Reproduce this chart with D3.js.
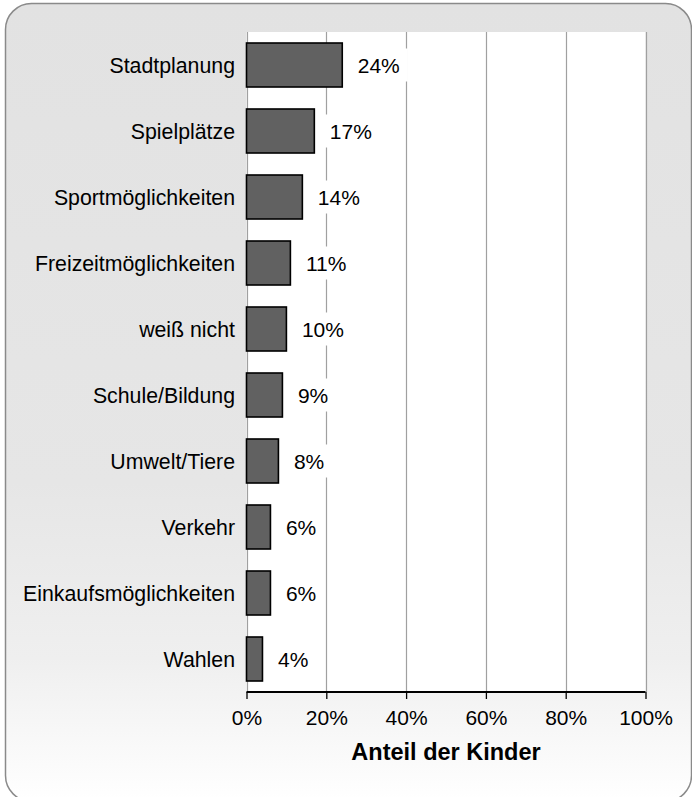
<!DOCTYPE html>
<html>
<head>
<meta charset="utf-8">
<script src="https://cdn.jsdelivr.net/npm/d3@7"></script>
<style>
  html, body { margin: 0; padding: 0; background: #ffffff; }
  svg { display: block; }
  text { font-family: "Liberation Sans", Arial, sans-serif; fill: #000; }
</style>
</head>
<body>
<svg id="chart" width="692" height="797"></svg>
<script>
// Themen, die Kinder nennen, und Anteil der Kinder je Thema
const categories = [
  "Stadtplanung", "Spielplätze", "Sportmöglichkeiten", "Freizeitmöglichkeiten",
  "weiß nicht", "Schule/Bildung", "Umwelt/Tiere", "Verkehr",
  "Einkaufsmöglichkeiten", "Wahlen"
];
const shares = [0.24, 0.17, 0.14, 0.11, 0.10, 0.09, 0.08, 0.06, 0.06, 0.04];
const tickValues = [0, 0.2, 0.4, 0.6, 0.8, 1.0];
const axisTitle = "Anteil der Kinder";

const svg = d3.select("#chart");
const plot = { left: 246.5, right: 645.5, top: 32, bottom: 692 };

// Hintergrund mit Verlauf und abgerundetem Rahmen
const defs = svg.append("defs");
const grad = defs.append("linearGradient")
  .attr("id", "bg").attr("x1", 0).attr("y1", 0).attr("x2", 0).attr("y2", 1);
[[0, "#e2e2e2"], [0.6, "#e6e6e6"], [0.82, "#efefef"], [1, "#ffffff"]]
  .forEach(([o, c]) => grad.append("stop").attr("offset", o).attr("stop-color", c));

svg.append("rect")
  .attr("x", 5.5).attr("y", 3.5)
  .attr("width", 686).attr("height", 798)
  .attr("rx", 26).attr("ry", 26)
  .attr("fill", "url(#bg)")
  .attr("stroke", "#8a8a8a").attr("stroke-width", 1.5);

const x = d3.scaleLinear().domain([0, 1]).range([plot.left, plot.right]);
const y = d3.scaleBand().domain(categories).range([plot.top, plot.bottom]).paddingInner(1 / 3).paddingOuter(1 / 6);

// Weiße Zeichenfläche
svg.append("rect")
  .attr("x", plot.left).attr("y", plot.top)
  .attr("width", plot.right - plot.left).attr("height", plot.bottom - plot.top)
  .attr("fill", "#ffffff");

// Vertikale Gitterlinien
svg.append("g").selectAll("line").data(tickValues).join("line")
  .attr("x1", d => Math.round(x(d)) + 0.5).attr("x2", d => Math.round(x(d)) + 0.5)
  .attr("y1", plot.top).attr("y2", plot.bottom)
  .attr("stroke", "#a0a0a0").attr("stroke-width", 1.2);

// Balken
svg.append("g").selectAll("rect").data(categories).join("rect")
  .attr("x", x(0))
  .attr("y", d => y(d))
  .attr("width", (d, i) => x(shares[i]) - x(0))
  .attr("height", y.bandwidth())
  .attr("fill", "#616161")
  .attr("stroke", "#000").attr("stroke-width", 1.6);

// Wertbeschriftungen mit weißem Hintergrund
const fmt = d3.format(".0%");
const labels = svg.append("g").selectAll("g").data(categories).join("g");
labels.each(function (d, i) {
  const g = d3.select(this);
  const cy = y(d) + y.bandwidth() / 2;
  const tx = x(shares[i]) + 15.5;
  const box = g.append("rect").attr("fill", "#ffffff");
  const t = g.append("text")
    .attr("x", tx).attr("y", cy)
    .attr("dy", "0.36em")
    .attr("font-size", 21)
    .text(fmt(shares[i]));
  const w = t.node().getComputedTextLength();
  box.attr("x", tx - 6).attr("y", cy - 16.5).attr("width", w + 14).attr("height", 33);
});

// Kategorienbeschriftungen
svg.append("g").selectAll("text").data(categories).join("text")
  .attr("x", 235)
  .attr("y", d => y(d) + y.bandwidth() / 2)
  .attr("dy", "0.36em")
  .attr("text-anchor", "end")
  .attr("font-size", 21.3)
  .text(d => d);

// x-Achse
const xAxis = d3.axisBottom(x).tickValues(tickValues).tickFormat(fmt).tickSize(7).tickPadding(11);
const ax = svg.append("g").attr("transform", `translate(0,${plot.bottom})`).call(xAxis);
ax.select(".domain").attr("stroke", "#000").attr("stroke-width", 2.2).attr("d", `M${plot.left},0H${plot.right}`);
ax.selectAll(".tick line").attr("stroke", "#000").attr("stroke-width", 1.3);
ax.selectAll(".tick text")
  .attr("font-family", "'Liberation Sans', Arial, sans-serif")
  .attr("font-size", 21).attr("fill", "#000");

svg.append("text")
  .attr("x", (plot.left + plot.right) / 2)
  .attr("y", 760)
  .attr("text-anchor", "middle")
  .attr("font-size", 23.5)
  .attr("font-weight", "bold")
  .text(axisTitle);
</script>
</body>
</html>
